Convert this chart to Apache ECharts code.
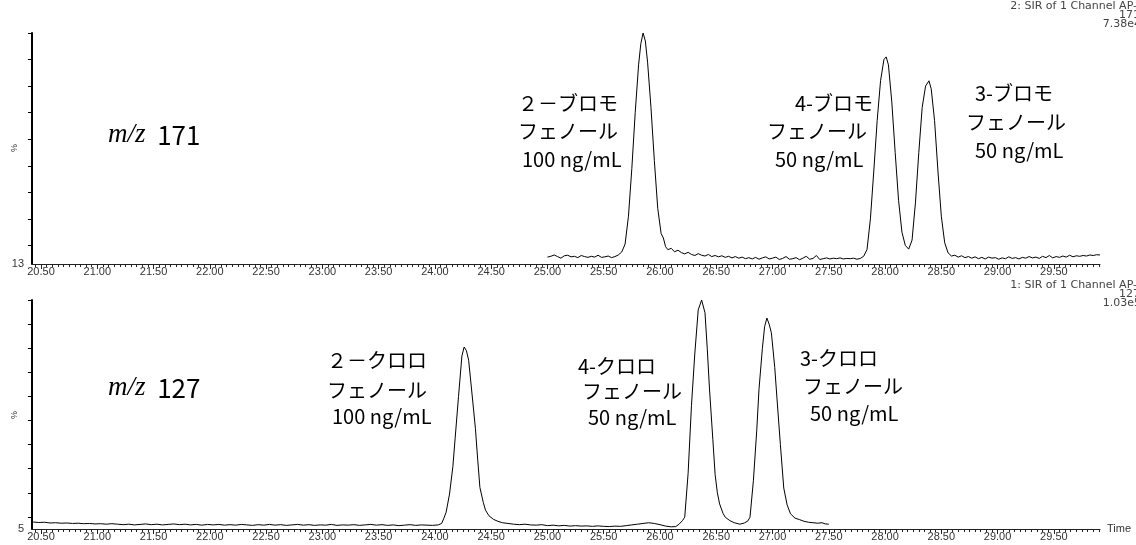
<!DOCTYPE html>
<html><head><meta charset="utf-8">
<script src="https://cdn.jsdelivr.net/npm/echarts@6/dist/echarts.min.js"></script>
<style>html,body{margin:0;padding:0;background:#fff}#c{width:1136px;height:545px}</style>
</head><body><div id="c"></div>
<script>
// ---- data ----
const xTickLabels = ['20.50','21.00','21.50','22.00','22.50','23.00','23.50','24.00','24.50','25.00','25.50','26.00','26.50','27.00','27.50','28.00','28.50','29.00','29.50'];
const topYTicks = [20,30,40,50,60,70,80,90,100];
const botYTicks = [10,20,30,40,50,60,70,80,90,100];
const topYLabel = [13];
const botYLabel = [5];

// m/z 171 (bromophenols)
const bromoTime = [25.00,25.03,25.06,25.09,25.12,25.15,25.18,25.21,25.24,25.27,25.30,25.33,25.36,25.39,25.42,25.45,25.48,25.51,25.54,25.57,25.60,25.63,25.66,
25.69,25.72,25.75,25.78,25.81,25.83,25.85,25.87,25.89,25.92,25.95,25.98,26.01,26.03,26.05,26.07,26.10,26.13,26.16,
26.19,26.22,26.25,26.28,26.31,26.34,26.37,26.40,26.43,26.46,26.49,26.52,26.55,26.58,26.61,26.64,26.67,26.70,26.73,26.76,26.79,26.82,26.85,26.88,26.91,26.94,26.97,27.00,27.03,27.06,27.09,27.12,27.15,27.18,27.21,27.24,27.27,27.30,27.33,27.36,27.39,27.42,27.45,27.48,27.51,27.54,27.57,27.60,27.63,27.66,27.69,27.72,27.75,27.78,27.81,
27.84,27.87,27.90,27.93,27.96,27.99,28.01,28.03,28.06,28.09,28.12,28.15,28.18,28.21,28.24,28.27,28.30,28.33,28.36,28.39,28.41,28.44,28.47,28.50,28.53,28.56,28.59,
28.62,28.65,28.68,28.71,28.74,28.77,28.80,28.83,28.86,28.89,28.92,28.95,28.98,29.01,29.04,29.07,29.10,29.13,29.16,29.19,29.22,29.25,29.28,29.31,29.34,29.37,29.40,29.43,29.46,29.49,29.52,29.55,29.58,29.61,29.64,29.67,29.70,29.73,29.76,29.79,29.82,29.85,29.88,29.91];
const bromoPct = [15.6,15.9,16.4,15.8,15.2,16.1,16.3,15.7,15.9,15.4,16.2,15.8,15.5,15.9,15.6,16.3,15.5,15.7,16.0,15.4,15.8,16.4,17.5,
20.5,31,49,70,88,96,100,97,89,72,52,34,24.5,22.8,19.5,18.4,18.9,17.6,18.2,
17.3,16.8,17.4,16.6,16.2,16.9,16.3,16.0,16.6,15.8,16.2,15.7,16.1,15.5,15.9,15.3,15.8,15.2,15.6,15.0,15.4,14.9,15.5,14.8,15.3,15.7,14.9,15.2,15.6,14.7,15.1,15.8,14.8,15.0,15.4,14.6,15.2,15.9,14.8,15.1,16.2,14.7,15.0,15.3,14.9,15.2,15.0,15.3,14.9,15.1,15.0,15.2,14.8,15.1,15.9,
18.5,30,48,67,82,90,91,88,74,55,37,25,20,18.6,22,36,55,72,80,82,79,67,48,31,21,17.2,16.0,
16.3,15.6,16.1,15.4,15.8,15.2,15.7,15.0,15.5,14.9,15.6,15.2,15.4,14.8,15.3,15.0,15.7,15.1,15.4,14.9,15.5,15.2,15.8,15.3,15.6,15.1,15.9,15.4,16.2,15.3,15.8,15.5,16.0,15.6,16.3,15.7,16.1,15.9,16.2,16.0,16.4,16.2,16.5,16.4];

// m/z 127 (chlorophenols)
const chloroTime = [20.43,20.48,20.53,20.58,20.63,20.68,20.73,20.78,20.83,20.88,20.93,20.98,21.03,21.08,21.13,21.18,21.23,21.28,21.33,21.38,21.43,21.48,21.53,21.58,21.63,21.68,21.73,21.78,21.83,21.88,21.93,21.98,22.03,22.08,22.13,22.18,22.23,22.28,22.33,22.38,22.43,22.48,22.53,22.58,22.63,22.68,22.73,22.78,22.83,22.88,22.93,22.98,23.03,23.08,23.13,23.18,23.23,23.28,23.33,23.38,23.43,23.48,23.53,23.58,23.63,23.68,23.73,23.78,23.83,23.88,23.93,23.98,24.03,
24.06,24.08,24.10,24.13,24.16,24.18,24.21,24.24,24.26,24.28,24.30,24.33,24.36,24.38,24.40,24.43,24.45,24.48,24.52,24.56,24.60,24.65,24.70,24.75,24.80,24.85,24.90,24.95,25.00,25.05,25.10,25.15,25.20,25.25,25.30,25.35,25.40,25.45,25.50,25.55,25.60,25.65,25.70,25.75,25.80,25.85,25.90,25.95,26.00,26.05,26.10,26.14,
26.17,26.20,26.22,26.25,26.28,26.31,26.34,26.37,26.40,26.42,26.44,26.47,26.49,26.51,26.53,26.56,26.58,26.62,26.66,26.71,26.75,26.78,26.80,26.83,26.86,26.88,26.91,26.93,26.95,26.97,26.99,27.02,27.04,27.07,27.10,27.13,27.16,27.20,27.24,27.28,27.32,27.36,27.40,27.44,27.47,27.50];
const chloroPct = [7.9,7.7,7.8,7.5,7.6,7.4,7.5,7.3,7.4,7.2,7.3,7.1,7.2,7.0,7.2,7.0,6.8,7.0,6.7,6.9,7.1,6.8,7.0,6.7,6.9,7.1,6.8,7.0,6.7,6.9,6.6,6.9,6.7,6.9,6.6,6.8,6.6,6.9,6.7,6.5,6.8,6.6,6.9,6.6,6.8,6.5,6.7,6.9,6.6,6.8,6.5,6.7,6.6,6.9,6.5,6.7,6.6,6.8,6.5,6.7,6.9,6.6,6.8,6.5,6.7,6.4,6.6,6.8,6.5,6.7,6.6,6.5,6.7,
7.3,9.5,12,19.5,31,42.7,60,76.8,80.5,79,75,61,46.8,34,22.2,16,12.8,10.5,9.0,8.2,7.6,7.3,7.0,6.8,7.0,6.7,6.6,6.8,6.4,6.6,6.3,6.5,6.2,6.4,6.2,6.3,6.1,6.3,6.1,6.0,6.2,6.1,6.4,6.7,7.0,7.3,7.6,7.3,6.8,6.2,5.9,6.0,
7.0,8.5,9.9,28,56.3,78,95.9,100,94.7,80,63.1,42,27.6,20,15.4,11.5,9.9,8.5,7.6,7.0,7.5,8.3,9.9,25,46,63,80,89,92.5,90,86.4,72,59,40,22,15,11.3,9.5,8.9,8.2,7.8,7.6,7.4,7.6,7.1,7.0];

// ---- build ----
const zip = (t, v) => t.map((x, i) => [x, v[i]]);
const majorVals = xTickLabels.map(Number);
const minorVals = [];
for (let k = 2042; k <= 2991; k++) { if (k % 5 === 0) minorVals.push(k / 100); }

const XMIN = 20.42, XMAX = 29.91;
function mainX(grid, name) {
  return {
    type: 'value', gridIndex: grid, min: XMIN, max: XMAX, position: 'bottom',
    name: name || '', nameLocation: 'end', nameGap: 7,
    nameTextStyle: {fontFamily: 'Liberation Sans', fontSize: 11, color: '#333', verticalAlign: 'middle', padding: [6,0,0,0]},
    axisLine: {show: true, lineStyle: {color: '#222', width: 1}},
    axisTick: {show: true, inside: false, length: 5, lineStyle: {color: '#222'}, customValues: majorVals},
    axisLabel: {show: true, customValues: majorVals, formatter: v => v.toFixed(2), fontFamily: 'Liberation Sans', fontSize: 11, color: '#333', margin: 2},
    splitLine: {show: false}
  };
}
function minorX(grid) {
  return {
    type: 'value', gridIndex: grid, min: XMIN, max: XMAX, position: 'bottom', offset: 0,
    axisLine: {show: false},
    axisTick: {show: true, inside: false, length: 3, lineStyle: {color: '#222'}, customValues: minorVals},
    axisLabel: {show: false}, splitLine: {show: false}
  };
}
function yAx(grid, min, ticks, labels) {
  return {
    type: 'value', gridIndex: grid, min: min, max: 100,
    axisLine: {show: true, lineStyle: {color: '#000', width: 2}},
    axisTick: {show: true, inside: false, length: 4, lineStyle: {color: '#000'}, customValues: ticks},
    axisLabel: {show: true, customValues: labels, fontFamily: 'Liberation Sans', fontSize: 11, color: '#333', margin: 8},
    splitLine: {show: false}
  };
}

const jp = 'Noto Sans CJK JP';
function t(x, y, s) {
  return {type: 'text', x: x, y: y, silent: true,
    style: {text: s, font: '20px "' + jp + '"', fill: '#000', textVerticalAlign: 'middle'}};
}
function hdr(x, y, s) {
  return {type: 'text', x: x, y: y, silent: true,
    style: {text: s, font: '11px "DejaVu Sans"', fill: '#444', textAlign: 'right', textVerticalAlign: 'middle'}};
}
function pct(y) {
  return {type: 'text', x: 15, y: y, rotation: Math.PI / 2, silent: true,
    style: {text: '%', font: '9px "Liberation Sans"', fill: '#333', textAlign: 'center', textVerticalAlign: 'middle'}};
}
function mz(x, y, num) {
  return {type: 'text', x: x, y: y, silent: true,
    style: {text: '{a|m/z}{b|  ' + num + '}', textVerticalAlign: 'middle',
      rich: {a: {fontFamily: 'Liberation Serif', fontStyle: 'italic', fontSize: 27, color: '#000'},
             b: {fontFamily: jp, fontSize: 26, color: '#000'}}}};
}

const chart = echarts.init(document.getElementById('c'), null, {renderer: 'canvas'});
chart.setOption({
  animation: false,
  backgroundColor: '#fff',
  grid: [
    {left: 32, top: 33, width: 1068, height: 231, outerBoundsMode: 'none', containLabel: false},
    {left: 32, top: 300, width: 1068, height: 229, outerBoundsMode: 'none', containLabel: false}
  ],
  xAxis: [mainX(0), minorX(0), mainX(1, 'Time'), minorX(1)],
  yAxis: [yAx(0, 13, topYTicks, topYLabel), yAx(1, 5, botYTicks, botYLabel)],
  series: [
    {type: 'line', xAxisIndex: 0, yAxisIndex: 0, data: zip(bromoTime, bromoPct), showSymbol: false, smooth: false,
     lineStyle: {color: '#000', width: 1}, silent: true},
    {type: 'line', xAxisIndex: 2, yAxisIndex: 1, data: zip(chloroTime, chloroPct), showSymbol: false, smooth: false,
     lineStyle: {color: '#000', width: 1}, silent: true}
  ],
  graphic: [
    hdr(1137, 6, '2: SIR of 1 Channel AP-'), hdr(1140, 15, '171'), hdr(1141, 24, '7.38e4'),
    hdr(1137, 285, '1: SIR of 1 Channel AP-'), hdr(1140, 294, '127'), hdr(1141, 303, '1.03e5'),
    pct(148), pct(415),
    mz(108, 135, '171'), mz(108, 388, '127'),
    t(518, 103, '２－ブロモ'), t(518, 131, 'フェノール'), t(522, 159, '100 ng/mL'),
    t(795, 103, '4-ブロモ'), t(767, 131, 'フェノール'), t(775, 159, '50 ng/mL'),
    t(975, 93, '3-ブロモ'), t(966, 122, 'フェノール'), t(975, 150, '50 ng/mL'),
    t(327, 360, '２－クロロ'), t(327, 390, 'フェノール'), t(332, 416, '100 ng/mL'),
    t(578, 366, '4-クロロ'), t(582, 391, 'フェノール'), t(588, 417, '50 ng/mL'),
    t(800, 358, '3-クロロ'), t(803, 386, 'フェノール'), t(810, 413, '50 ng/mL')
  ]
});
</script></body></html>
